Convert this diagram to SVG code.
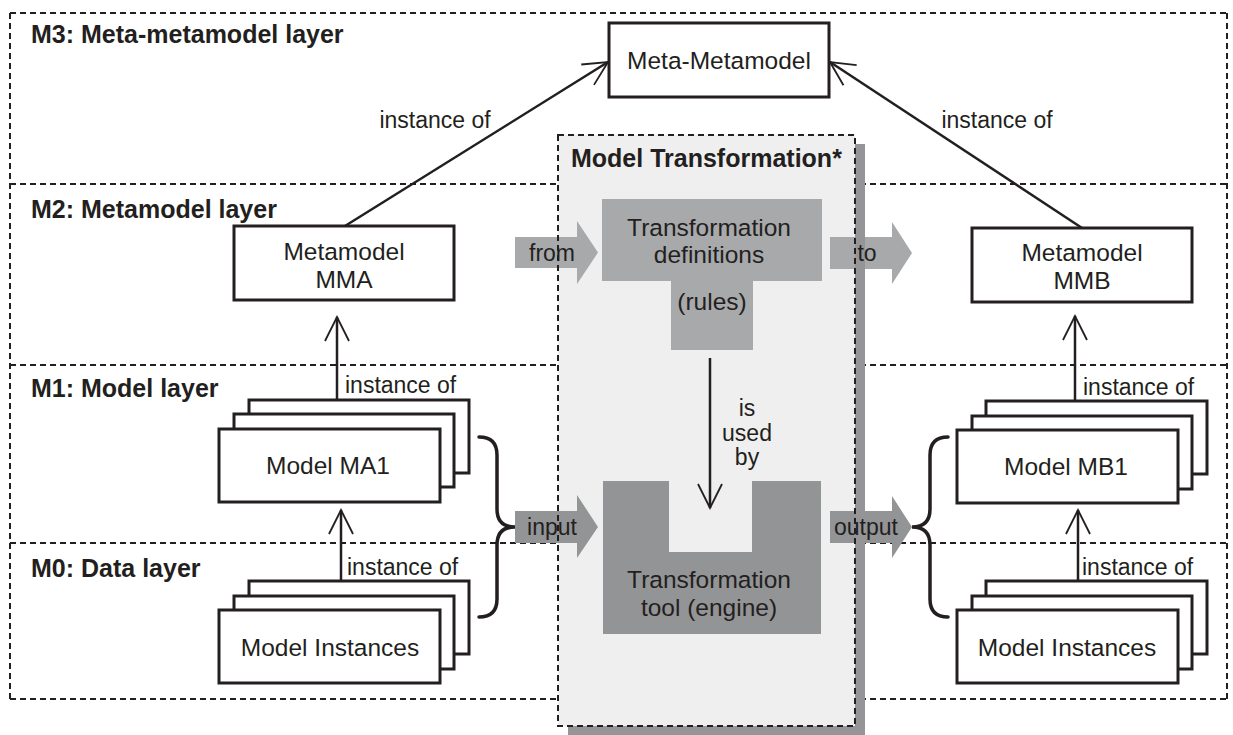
<svg xmlns="http://www.w3.org/2000/svg" width="1233" height="735" viewBox="0 0 1233 735">
<defs>
<style>
.dash{fill:none;stroke:#231f20;stroke-width:2;stroke-dasharray:6 4}
.box{fill:#fff;stroke:#231f20;stroke-width:3}
.conn{fill:none;stroke:#231f20;stroke-width:2.5}
.brace{fill:none;stroke:#231f20;stroke-width:3.5;stroke-linecap:round}
.t{font-family:"Liberation Sans",Arial,sans-serif;fill:#231f20}
.title{font-size:25px;font-weight:bold}
.bx{font-size:24.5px;text-anchor:middle}
.lb{font-size:23px}
.lbm{font-size:23px;text-anchor:middle}
.light{fill:#a8a9ab}
.dark{fill:#939496}
.shadow{fill:#959597}
</style>
<marker id="arr" markerUnits="userSpaceOnUse" markerWidth="30" markerHeight="30" viewBox="-26 -14 30 28" refX="0" refY="0" orient="auto">
<path d="M-24,-12 L0,0 L-24,12" fill="none" stroke="#231f20" stroke-width="1.8"/>
</marker>
</defs>
<rect width="1233" height="735" fill="#fff"/>

<g id="layers">
<line class="dash" x1="10" y1="13" x2="1227" y2="13"/>
<line class="dash" x1="10" y1="13" x2="10" y2="699"/>
<line class="dash" x1="1227" y1="13" x2="1227" y2="699"/>
<line class="dash" x1="10" y1="699" x2="1227" y2="699"/>
<line class="dash" x1="10" y1="184" x2="1227" y2="184"/>
<line class="dash" x1="10" y1="365" x2="1227" y2="365"/>
<line class="dash" x1="10" y1="543" x2="1227" y2="543"/>
<text class="t title" x="31" y="43">M3: Meta-metamodel layer</text>
<text class="t title" x="31" y="218">M2: Metamodel layer</text>
<text class="t title" x="31" y="397">M1: Model layer</text>
<text class="t title" x="31" y="577">M0: Data layer</text>
</g>

<g id="model-transformation">
<rect class="shadow" x="568" y="144" width="297" height="591"/>
<rect x="558" y="135" width="297" height="591" fill="#efefef"/>
</g>

<g id="transformation-definitions">
<path class="light" d="M602,199 H822 V281 H753 V350 H671 V281 H602 Z"/>
<text class="t bx" x="709" y="236">Transformation</text>
<text class="t bx" x="709" y="263">definitions</text>
<text class="t bx" x="712" y="310">(rules)</text>
</g>

<g id="transformation-tool">
<path class="dark" d="M603,481 H669 V552 H752 V481 H821 V634 H603 Z"/>
<text class="t bx" x="709" y="588">Transformation</text>
<text class="t bx" x="709" y="616">tool (engine)</text>
</g>

<g id="block-arrows">
<path class="light" d="M515,237 H577 V221 L598,252.5 L577,284 V268 H515 Z"/>
<path class="light" d="M830,237 H892 V222 L912,253 L892,284 V269 H830 Z"/>
<path class="dark" d="M515,511 H577 V495 L598,527 L577,558 V543 H515 Z"/>
<path class="dark" d="M830,511 H892 V496 L912,527 L892,558 V543 H830 Z"/>
<rect class="shadow" x="855" y="144" width="10" height="591"/>
<text class="t lbm" x="552" y="261">from</text>
<text class="t lbm" x="867" y="261">to</text>
<text class="t lbm" x="552" y="535">input</text>
<text class="t lbm" x="866" y="535">output</text>
</g>

<g id="model-transformation-border">
<rect class="dash" x="558" y="135" width="297" height="591"/>
<text class="t title" x="571" y="167">Model Transformation*</text>
</g>

<g id="meta-metamodel">
<rect class="box" x="609" y="23" width="220" height="74"/>
<text class="t bx" x="719" y="69">Meta-Metamodel</text>
</g>

<g id="metamodel-mma">
<rect class="box" x="234" y="226" width="220" height="74"/>
<text class="t bx" x="344" y="260">Metamodel</text>
<text class="t bx" x="344" y="288">MMA</text>
</g>

<g id="metamodel-mmb">
<rect class="box" x="972" y="228" width="220" height="74"/>
<text class="t bx" x="1082" y="261">Metamodel</text>
<text class="t bx" x="1082" y="289">MMB</text>
</g>

<g id="model-ma1">
<rect class="box" x="249" y="400" width="220" height="73"/>
<rect class="box" x="234" y="414" width="220" height="73"/>
<rect class="box" x="219" y="429" width="221" height="73"/>
<text class="t bx" x="328" y="474">Model MA1</text>
</g>

<g id="model-instances-a">
<rect class="box" x="249" y="581" width="220" height="73"/>
<rect class="box" x="234" y="596" width="220" height="73"/>
<rect class="box" x="219" y="610" width="221" height="73"/>
<text class="t bx" x="330" y="656">Model Instances</text>
</g>

<g id="model-mb1">
<rect class="box" x="986" y="401" width="221" height="73"/>
<rect class="box" x="972" y="416" width="220" height="73"/>
<rect class="box" x="957" y="430" width="221" height="73"/>
<text class="t bx" x="1066" y="475">Model MB1</text>
</g>

<g id="model-instances-b">
<rect class="box" x="986" y="581" width="221" height="73"/>
<rect class="box" x="972" y="596" width="220" height="73"/>
<rect class="box" x="957" y="610" width="221" height="73"/>
<text class="t bx" x="1067" y="656">Model Instances</text>
</g>

<g id="connectors">
<line class="conn" x1="345" y1="226" x2="608" y2="62" marker-end="url(#arr)"/>
<line class="conn" x1="1082" y1="228" x2="830" y2="62" marker-end="url(#arr)"/>
<line class="conn" x1="337" y1="400" x2="337" y2="317" marker-end="url(#arr)"/>
<line class="conn" x1="341" y1="581" x2="341" y2="510" marker-end="url(#arr)"/>
<line class="conn" x1="1075" y1="401" x2="1075" y2="316" marker-end="url(#arr)"/>
<line class="conn" x1="1078" y1="581" x2="1078" y2="510" marker-end="url(#arr)"/>
<line class="conn" x1="710" y1="358" x2="710" y2="508" marker-end="url(#arr)"/>
<path class="brace" d="M479,437 Q497,437 497,455 L497,509 Q497,527 515,527 Q497,527 497,545 L497,599 Q497,617 479,617"/>
<path class="brace" d="M948,437 Q930,437 930,455 L930,509 Q930,527 912,527 Q930,527 930,545 L930,599 Q930,617 948,617"/>
<text class="t lbm" x="435" y="128">instance of</text>
<text class="t lbm" x="997" y="128">instance of</text>
<text class="t lb" x="345" y="393">instance of</text>
<text class="t lb" x="347" y="575">instance of</text>
<text class="t lb" x="1083" y="395">instance of</text>
<text class="t lb" x="1082" y="575">instance of</text>
<text class="t lbm" x="747" y="416">is</text>
<text class="t lbm" x="747" y="441">used</text>
<text class="t lbm" x="747" y="465">by</text>
</g>
</svg>
